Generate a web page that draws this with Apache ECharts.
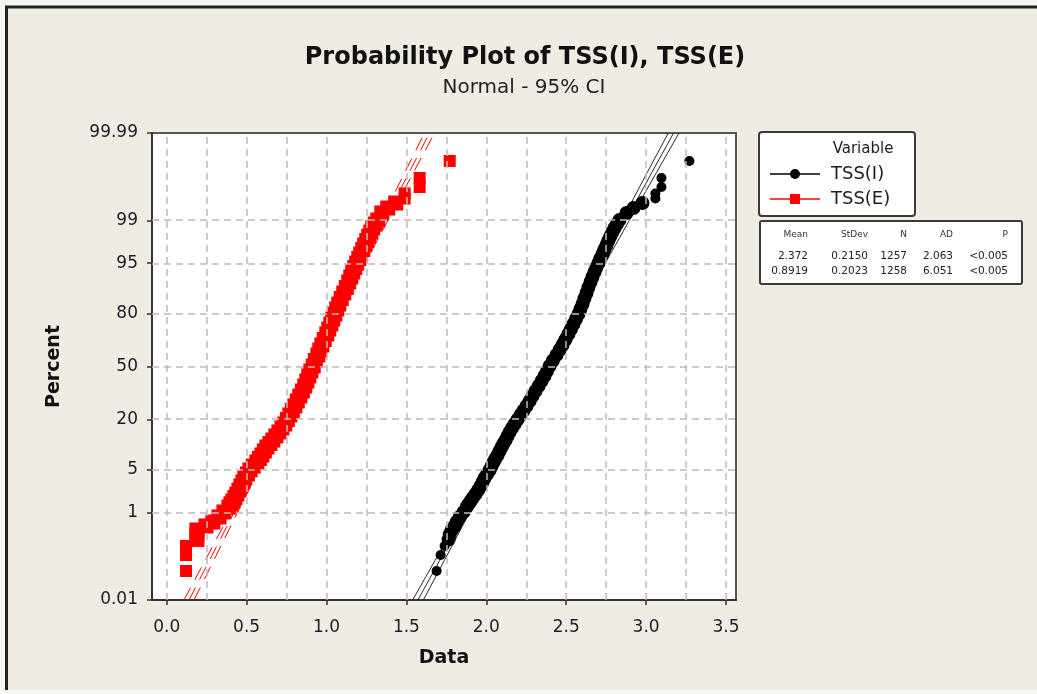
<!DOCTYPE html>
<html>
<head>
<meta charset="utf-8">
<script src="https://cdn.jsdelivr.net/npm/echarts@6/dist/echarts.min.js"></script>
<style>
html,body{margin:0;padding:0;background:#f6f6f2;}
#chart{width:1037px;height:694px;}
</style>
</head>
<body>
<div id="chart"></div>
<script>
// ---- Data ----
// Plotting positions (percent) of the sampled points, shared by both variables
const percentPos = [99.947, 99.866, 99.787, 99.707, 99.627, 99.539, 99.420, 99.276, 99.018, 98.837,
  98.63, 98.39, 98.11, 97.76, 97.35, 96.88, 96.34, 95.73, 95.03, 94.26,
  93.39, 92.29, 91.09, 89.58, 87.92, 86.06, 84.01, 82.02, 79.84, 77.52,
  75.08, 72.47, 69.78, 66.64, 63.42, 60.37, 57.26, 53.82, 50.32, 47.13,
  44.0, 40.87, 37.8, 34.83, 31.9, 29.15, 26.5, 24.17, 22.0, 19.93,
  18.0, 16.38, 14.85, 13.42, 12.08, 11.01, 9.99, 8.92, 7.94, 7.15,
  6.41, 5.65, 4.97, 4.35, 3.79, 3.30, 2.85, 2.46, 2.11, 1.85,
  1.61, 1.43, 1.26, 1.025, 0.827, 0.663, 0.554, 0.461, 0.373, 0.294,
  0.213, 0.134, 0.0563];
const tssI = [3.271, 3.096, 3.096, 3.058, 3.058, 2.977, 2.921, 2.877, 2.833, 2.817,
  2.802, 2.789, 2.777, 2.764, 2.752, 2.739, 2.727, 2.714, 2.702, 2.689,
  2.677, 2.664, 2.652, 2.639, 2.627, 2.614, 2.602, 2.589, 2.577, 2.561,
  2.546, 2.530, 2.514, 2.496, 2.477, 2.458, 2.439, 2.417, 2.396, 2.380,
  2.364, 2.346, 2.327, 2.308, 2.289, 2.271, 2.252, 2.233, 2.214, 2.196,
  2.177, 2.161, 2.146, 2.133, 2.121, 2.108, 2.096, 2.083, 2.071, 2.058,
  2.046, 2.033, 2.021, 2.005, 1.989, 1.977, 1.964, 1.949, 1.933, 1.917,
  1.902, 1.889, 1.877, 1.858, 1.833, 1.814, 1.802, 1.783, 1.771, 1.764,
  1.739, 1.714, 1.689];
const tssE = [1.771, 1.583, 1.583, 1.489, 1.489, 1.433, 1.383, 1.346, 1.321, 1.305,
  1.289, 1.277, 1.264, 1.252, 1.239, 1.227, 1.214, 1.202, 1.189, 1.177,
  1.164, 1.152, 1.139, 1.124, 1.108, 1.092, 1.077, 1.064, 1.052, 1.039,
  1.027, 1.014, 1.002, 0.986, 0.971, 0.958, 0.946, 0.930, 0.917, 0.902,
  0.889, 0.877, 0.864, 0.849, 0.833, 0.817, 0.802, 0.786, 0.771, 0.755,
  0.739, 0.721, 0.702, 0.683, 0.664, 0.646, 0.627, 0.611, 0.596, 0.580,
  0.564, 0.542, 0.521, 0.505, 0.489, 0.477, 0.464, 0.452, 0.439, 0.427,
  0.414, 0.402, 0.389, 0.358, 0.327, 0.289, 0.246, 0.189, 0.189, 0.189,
  0.121, 0.121, 0.121];

// Fitted line and 95% CI, x values at these percent levels
const fitPercent = [0.01, 0.1, 1, 5, 20, 50, 80, 95, 99, 99.9, 99.99];
const fitI   = [1.572, 1.708, 1.872, 2.018, 2.191, 2.372, 2.553, 2.726, 2.872, 3.036, 3.172];
const lowI   = [1.539, 1.679, 1.849, 2.000, 2.177, 2.360, 2.539, 2.708, 2.849, 3.007, 3.139];
const upI    = [1.606, 1.737, 1.895, 2.036, 2.205, 2.384, 2.567, 2.744, 2.895, 3.065, 3.206];
const fitE   = [0.140, 0.267, 0.421, 0.559, 0.722, 0.892, 1.062, 1.225, 1.362, 1.517, 1.644];
const lowE   = [0.108, 0.240, 0.400, 0.542, 0.709, 0.881, 1.049, 1.208, 1.341, 1.490, 1.613];
const upE    = [0.171, 0.294, 0.443, 0.576, 0.735, 0.903, 1.075, 1.242, 1.384, 1.544, 1.676];

// Axis ticks
const xTickValues = [0, 0.5, 1.0, 1.5, 2.0, 2.5, 3.0, 3.5];
const xGridValues = [0, 0.25, 0.5, 0.75, 1.0, 1.25, 1.5, 1.75, 2.0, 2.25, 2.5, 2.75, 3.0, 3.25, 3.5];
const yTickPercents = [0.01, 1, 5, 20, 50, 80, 95, 99, 99.99];
const yTickLabels = ['0.01', '1', '5', '20', '50', '80', '95', '99', '99.99'];
const yGridPercents = [1, 5, 20, 50, 80, 95, 99];

// Legend / statistics table
const varNames = ['TSS(I)', 'TSS(E)'];
const statHeader = ['Mean', 'StDev', 'N', 'AD', 'P'];
const statRows = [
  ['2.372', '0.2150', '1257', '2.063', '<0.005'],
  ['0.8919', '0.2023', '1258', '6.051', '<0.005']
];

// ---- Normal probability scale (percent -> standard normal quantile) ----
function probit(p) {
  const a=[-3.969683028665376e+01,2.209460984245205e+02,-2.759285104469687e+02,1.383577518672690e+02,-3.066479806614716e+01,2.506628277459239e+00];
  const b=[-5.447609879822406e+01,1.615858368580409e+02,-1.556989798598866e+02,6.680131188771972e+01,-1.328068155288572e+01];
  const c=[-7.784894002430293e-03,-3.223964580411365e-01,-2.400758277161838e+00,-2.549732539343734e+00,4.374664141464968e+00,2.938163982698783e+00];
  const d=[7.784695709041462e-03,3.224671290700398e-01,2.445134137142996e+00,3.754408661907416e+00];
  const pl=0.02425, ph=1-pl; let q, r;
  if (p < pl) { q=Math.sqrt(-2*Math.log(p)); return (((((c[0]*q+c[1])*q+c[2])*q+c[3])*q+c[4])*q+c[5])/((((d[0]*q+d[1])*q+d[2])*q+d[3])*q+1); }
  if (p <= ph) { q=p-0.5; r=q*q; return (((((a[0]*r+a[1])*r+a[2])*r+a[3])*r+a[4])*r+a[5])*q/(((((b[0]*r+b[1])*r+b[2])*r+b[3])*r+b[4])*r+1); }
  q=Math.sqrt(-2*Math.log(1-p)); return -(((((c[0]*q+c[1])*q+c[2])*q+c[3])*q+c[4])*q+c[5])/((((d[0]*q+d[1])*q+d[2])*q+d[3])*q+1);
}
const zOf = pct => probit(pct / 100);
const pair = (xs, ps) => xs.map((x, i) => [x, zOf(ps[i])]);
const yTickZ = yTickPercents.map(zOf);

const FONT = '"DejaVu Sans", Verdana, sans-serif';
const TXT = '#1c1c28';

const chart = echarts.init(document.getElementById('chart'), null, {renderer: 'canvas'});

const lineSeries = (name, xs, color, dashed) => ({
  type: 'line', name, data: pair(xs, fitPercent), showSymbol: false, symbol: 'none',
  silent: true, z: 3, animation: false,
  lineStyle: {color, width: 1, type: dashed ? [14, 9] : 'solid'}
});
// isolated tail markers are drawn a little smaller than the dense band
const tailSize = (dense, tail, n) => (val, params) =>
  (params.dataIndex < 5 || params.dataIndex >= n - 3) ? tail : dense;

const colX = [808, 868, 907, 953, 1008];
const graphics = [
  // outer frame
  {type: 'rect', shape: {x: 6, y: 6, width: 1031, height: 684}, style: {fill: '#f0ece1'}, z: -10, silent: true},
  {type: 'line', shape: {x1: 5, y1: 7, x2: 1037, y2: 7}, style: {stroke: '#222', lineWidth: 3}, silent: true},
  {type: 'line', shape: {x1: 6.5, y1: 6, x2: 6.5, y2: 690}, style: {stroke: '#222', lineWidth: 3}, silent: true},
  // title
  {type: 'text', x: 525, y: 58, style: {text: 'Probability Plot of TSS(I), TSS(E)', font: 'bold 24px ' + FONT, fill: '#111', align: 'center', verticalAlign: 'middle'}, silent: true},
  {type: 'text', x: 524, y: 88, style: {text: 'Normal - 95% CI', font: '20px ' + FONT, fill: '#222', align: 'center', verticalAlign: 'middle'}, silent: true},
  // legend box
  {type: 'rect', shape: {x: 759, y: 132, width: 156, height: 84, r: 3}, style: {fill: '#fff', stroke: '#3a3a3a', lineWidth: 2}, silent: true},
  {type: 'text', x: 863, y: 149, style: {text: 'Variable', font: '15px ' + FONT, fill: TXT, align: 'center', verticalAlign: 'middle'}, silent: true},
  {type: 'line', shape: {x1: 770, y1: 174, x2: 820, y2: 174}, style: {stroke: '#000', lineWidth: 1.5}, silent: true},
  {type: 'circle', shape: {cx: 795, cy: 174, r: 5}, style: {fill: '#000'}, silent: true},
  {type: 'text', x: 831, y: 174, style: {text: varNames[0], font: '18px ' + FONT, fill: TXT, align: 'left', verticalAlign: 'middle'}, silent: true},
  {type: 'line', shape: {x1: 770, y1: 199, x2: 820, y2: 199}, style: {stroke: '#ff0000', lineWidth: 1.5}, silent: true},
  {type: 'rect', shape: {x: 790, y: 194, width: 10, height: 10}, style: {fill: '#ff0000'}, silent: true},
  {type: 'text', x: 831, y: 199, style: {text: varNames[1], font: '18px ' + FONT, fill: TXT, align: 'left', verticalAlign: 'middle'}, silent: true},
  // stats box
  {type: 'rect', shape: {x: 760, y: 221, width: 262, height: 63, r: 2}, style: {fill: '#fff', stroke: '#3a3a3a', lineWidth: 2}, silent: true}
];
statHeader.forEach((h, i) => graphics.push({type: 'text', x: colX[i], y: 235, style: {text: h, font: '9px ' + FONT, fill: '#333', align: 'right', verticalAlign: 'middle'}, silent: true}));
statRows.forEach((row, r) => row.forEach((v, i) => graphics.push({type: 'text', x: colX[i], y: 256 + r * 15, style: {text: v, font: '10.5px ' + FONT, fill: '#222', align: 'right', verticalAlign: 'middle'}, silent: true})));

const option = {
  backgroundColor: '#f6f6f2',
  animation: false,
  grid: {left: 152, top: 133, right: 301, bottom: 94, show: true, backgroundColor: '#fff', borderColor: '#555', borderWidth: 2},
  xAxis: {
    type: 'value', min: -0.092, max: 3.5625,
    name: 'Data', nameLocation: 'middle', nameGap: 49,
    nameTextStyle: {fontFamily: FONT, fontWeight: 'bold', fontSize: 19, color: '#111'},
    axisLine: {show: true, onZero: false, lineStyle: {color: '#333', width: 2}},
    axisTick: {show: true, length: 5, customValues: xTickValues, lineStyle: {color: '#333', width: 1.5}},
    axisLabel: {customValues: xTickValues, margin: 19, fontFamily: FONT, fontSize: 17, color: TXT, formatter: v => v.toFixed(1)},
    splitLine: {show: false}
  },
  yAxis: {
    type: 'value', min: zOf(0.01), max: zOf(99.99),
    name: 'Percent', nameLocation: 'middle', nameGap: 88, nameRotate: 90,
    nameTextStyle: {fontFamily: FONT, fontWeight: 'bold', fontSize: 19, color: '#111'},
    axisLine: {show: true, onZero: false, lineStyle: {color: '#333', width: 2}},
    axisTick: {show: true, length: 5, customValues: yTickZ, lineStyle: {color: '#333', width: 1.5}},
    axisLabel: {customValues: yTickZ, margin: 14, fontFamily: FONT, fontSize: 17, color: TXT,
      formatter: v => { let best = 0; yTickZ.forEach((z, i) => { if (Math.abs(z - v) < Math.abs(yTickZ[best] - v)) best = i; }); return yTickLabels[best]; }},
    splitLine: {show: false}
  },
  series: [
    {
      type: 'line', name: 'grid', data: [], silent: true, z: 1,
      markLine: {
        silent: true, symbol: 'none', animation: false, label: {show: false},
        lineStyle: {color: '#bcbcbc', width: 1.5, type: [7, 5]},
        emphasis: {disabled: true},
        data: yGridPercents.map(p => ({yAxis: zOf(p)})).concat(xGridValues.map(x => ({xAxis: x})))
      }
    },
    lineSeries('fitI', fitI, '#2a2a2a', false),
    lineSeries('lowI', lowI, '#2a2a2a', false),
    lineSeries('upI', upI, '#2a2a2a', false),
    lineSeries('fitE', fitE, '#ff0000', true),
    lineSeries('lowE', lowE, '#ff0000', true),
    lineSeries('upE', upE, '#ff0000', true),
    {type: 'scatter', name: varNames[0], data: pair(tssI, percentPos), symbol: 'circle',
      symbolSize: tailSize(14, 10, tssI.length), z: 4, itemStyle: {color: '#000', opacity: 1}},
    {type: 'scatter', name: varNames[1], data: pair(tssE, percentPos), symbol: 'rect',
      symbolSize: tailSize(15, 12, tssE.length), z: 4, itemStyle: {color: '#ff0000', opacity: 1}}
  ],
  graphic: graphics
};
chart.setOption(option);
</script>
</body>
</html>
